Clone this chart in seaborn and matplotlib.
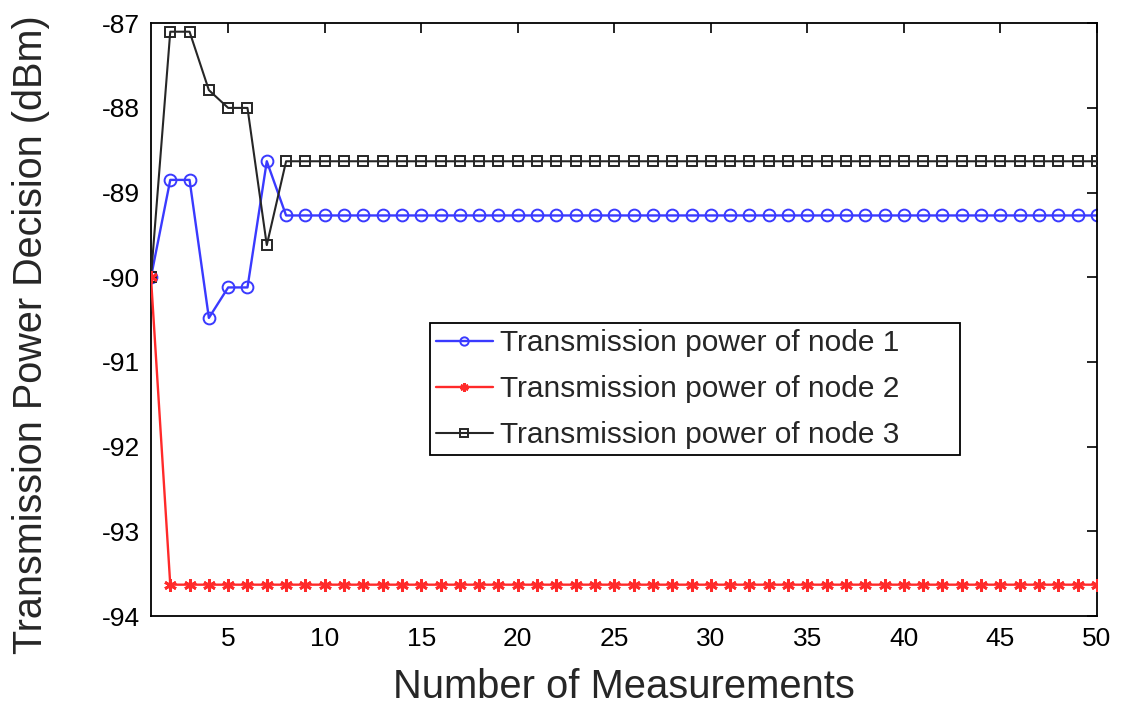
import numpy as np
import pandas as pd
import matplotlib
matplotlib.use("Agg")
import matplotlib.pyplot as plt
import seaborn as sns

measurements = list(range(1, 51))
node1 = [-90.0, -88.85, -88.85, -90.48, -90.12, -90.12, -88.63] + [-89.27] * 43
node2 = [-90.0] + [-93.63] * 49
node3 = [-90.0, -87.1, -87.1, -87.79, -88.0, -88.0, -89.62] + [-88.63] * 43
labels = ["Transmission power of node 1",
          "Transmission power of node 2",
          "Transmission power of node 3"]
xticks = [5, 10, 15, 20, 25, 30, 35, 40, 45, 50]
yticks = [-94, -93, -92, -91, -90, -89, -88, -87]

sns.set_theme(style="white")
plt.rcParams['font.family'] = ['Liberation Sans', 'DejaVu Sans']
plt.rcParams['axes.unicode_minus'] = False

fig = plt.figure(figsize=(11.24, 7.04), dpi=100)
ax = fig.add_axes([0.1343, 0.125, 0.8416, 0.842])

df1 = pd.DataFrame({"x": measurements, "y": node1})
df2 = pd.DataFrame({"x": measurements, "y": node2})
df3 = pd.DataFrame({"x": measurements, "y": node3})

sns.lineplot(data=df1, x="x", y="y", ax=ax, color="#3a3aff", lw=1.7,
             marker="o", markersize=8.5, markerfacecolor="none",
             markeredgecolor="#3a3aff", markeredgewidth=1.4, zorder=2)
sns.lineplot(data=df3, x="x", y="y", ax=ax, color="#262626", lw=1.5,
             marker="s", markersize=6.5, markerfacecolor="none",
             markeredgecolor="#262626", markeredgewidth=1.4, zorder=3)
sns.lineplot(data=df2, x="x", y="y", ax=ax, color="#ff2a2a", lw=1.7,
             marker=(6, 2, 0), markersize=9, markerfacecolor="#ff2a2a",
             markeredgecolor="#ff2a2a", markeredgewidth=2.0, zorder=4)

lines = ax.get_lines()
handles = [lines[0], lines[2], lines[1]]
leg = ax.legend(handles, labels, loc="upper left",
                bbox_to_anchor=(0.295, 0.268, 0.56, 0.226), mode="expand",
                fontsize=21.5, frameon=True,
                fancybox=False, edgecolor="black", framealpha=1,
                handlelength=1.9, handletextpad=0.25, borderpad=0.2,
                labelspacing=0.6, borderaxespad=0)
leg.get_frame().set_linewidth(1.3)
for h in leg.legend_handles:
    h.set_markersize(6)

ax.set_xlim(1, 50)
ax.set_ylim(-94, -87)
ax.set_xticks(xticks)
ax.set_yticks(yticks)
ax.set_xlabel("Number of Measurements", fontsize=28.7, labelpad=12)
ax.set_ylabel("Transmission Power Decision (dBm)", fontsize=28.5)
ax.yaxis.set_label_coords(-0.107, 0.475)
ax.tick_params(direction="in", length=7, width=1.2, top=True, right=True,
               labelsize=19, colors="black", pad=8)
for s in ax.spines.values():
    s.set_visible(True)
    s.set_color("black")
    s.set_linewidth(1.3)
ax.grid(False)

fig.savefig("out.png", dpi=100)
